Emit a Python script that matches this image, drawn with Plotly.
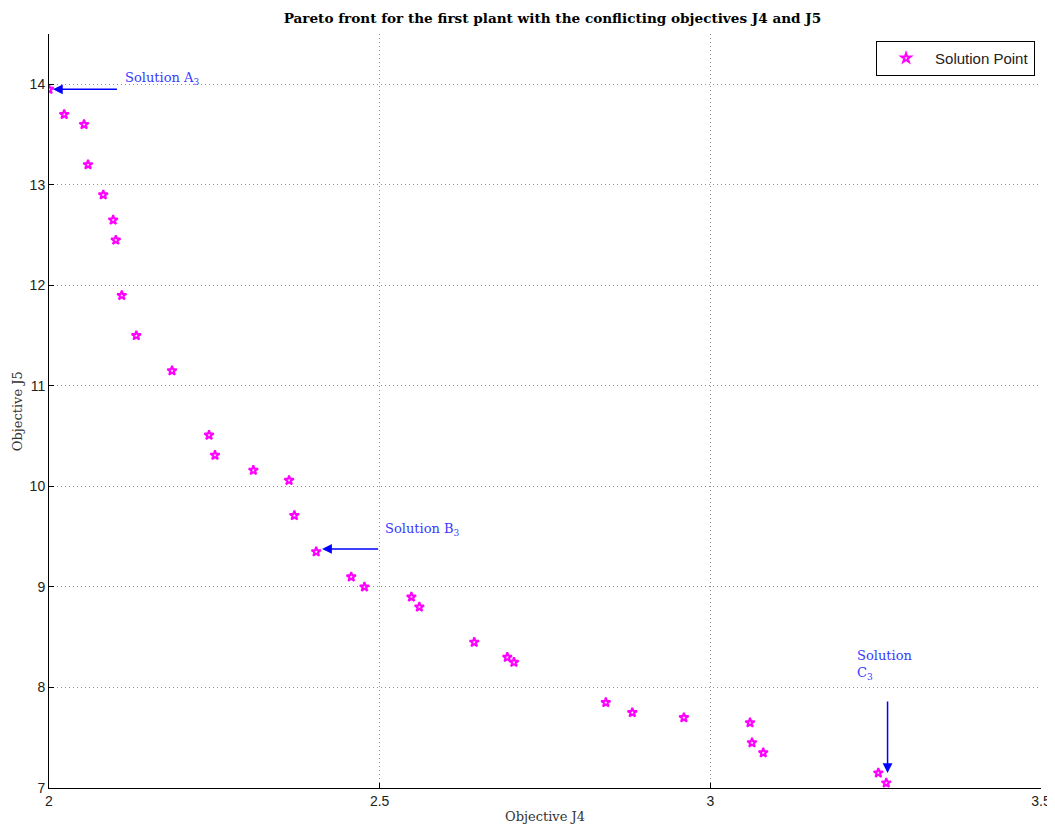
import plotly.graph_objects as go

# Data
j4 = [2.000, 2.023, 2.053, 2.059, 2.082, 2.097, 2.101, 2.110, 2.132, 2.186,
      2.242, 2.251, 2.309, 2.363, 2.371, 2.404, 2.457, 2.477, 2.548, 2.560,
      2.643, 2.693, 2.703, 2.842, 2.882, 2.960, 3.060, 3.063, 3.080, 3.254, 3.266]
j5 = [13.95, 13.70, 13.60, 13.20, 12.90, 12.65, 12.45, 11.90, 11.50, 11.15,
      10.51, 10.31, 10.16, 10.06, 9.71, 9.35, 9.10, 9.00, 8.90, 8.80,
      8.45, 8.30, 8.25, 7.85, 7.75, 7.70, 7.65, 7.45, 7.35, 7.15, 7.05]
x_ticks = [2, 2.5, 3, 3.5]
y_ticks = [7, 8, 9, 10, 11, 12, 13, 14]

serif = "DejaVu Serif, serif"
sans = "Liberation Sans, Arial, sans-serif"
blue = "#0000ff"
txtblue = "#3838ff"

fig = go.Figure()
fig.add_trace(go.Scatter(
    x=j4, y=j5, mode="markers", name="Solution Point",
    marker=dict(symbol="star-open", color="#ff00ff", size=7,
                line=dict(width=2, color="#ff00ff")),
))

# arrows (tip, tail) in data coordinates
arrows = [
    (2.006, 13.95, 2.105, 13.95),
    (2.413, 9.378, 2.500, 9.378),
    (3.268, 7.15, 3.268, 7.876),
]
annots = []
for x, y, ax, ay in arrows:
    annots.append(dict(x=x, y=y, ax=ax, ay=ay, xref="x", yref="y",
                       axref="x", ayref="y", text="", showarrow=True,
                       arrowhead=2, arrowsize=1.3, arrowwidth=1.5,
                       arrowcolor=blue))
annots += [
    dict(x=2.112, y=14.06, xref="x", yref="y", text="Solution A<sub>3</sub>",
         showarrow=False, xanchor="left", yanchor="middle",
         font=dict(family=serif, size=13, color=txtblue)),
    dict(x=2.505, y=9.57, xref="x", yref="y", text="Solution B<sub>3</sub>",
         showarrow=False, xanchor="left", yanchor="middle",
         font=dict(family=serif, size=13, color=txtblue)),
    dict(x=3.219, y=8.41, xref="x", yref="y", text="Solution<br>C<sub>3</sub>",
         showarrow=False, xanchor="left", yanchor="top", align="left",
         font=dict(family=serif, size=13, color=txtblue)),
    # axis titles placed explicitly
    dict(x=0.5, y=-0.025, xref="paper", yref="paper", text="Objective J4",
         showarrow=False, xanchor="center", yanchor="top",
         font=dict(family=serif, size=13, color="#333")),
    dict(x=-0.032, y=0.5, xref="paper", yref="paper", text="Objective J5",
         showarrow=False, xanchor="center", yanchor="middle", textangle=-90,
         font=dict(family=serif, size=13, color="#333")),
]

fig.update_layout(
    width=1047, height=825,
    margin=dict(l=41, r=14, t=26, b=45, autoexpand=False),
    paper_bgcolor="white", plot_bgcolor="white",
    title=dict(text="<b>Pareto front for the first plant with the conflicting objectives J4 and J5</b>",
               x=0.52, xanchor="center", y=0.987, yanchor="middle",
               font=dict(family=serif, size=13.6, color="black")),
    xaxis=dict(range=[2, 3.5], tickvals=x_ticks, ticktext=[str(v) for v in x_ticks],
               showgrid=True, gridcolor="#909090", griddash="1px,3px", gridwidth=1,
               ticks="inside", ticklen=5, tickcolor="black",
               showline=True, linecolor="black", linewidth=1, mirror=False,
               zeroline=False, automargin=False,
               tickfont=dict(family=sans, size=14, color="#222")),
    yaxis=dict(range=[7, 14.5], tickvals=y_ticks, ticktext=[str(v) for v in y_ticks],
               showgrid=True, gridcolor="#909090", griddash="1px,3px", gridwidth=1,
               ticks="inside", ticklen=5, tickcolor="black",
               showline=True, linecolor="black", linewidth=1, mirror=False,
               zeroline=False, automargin=False,
               tickfont=dict(family=sans, size=14, color="#222")),
    legend=dict(x=0.994, y=0.991, xanchor="right", yanchor="top",
                bgcolor="white", bordercolor="black", borderwidth=1,
                font=dict(family=sans, size=15, color="#222"),
                itemwidth=48, tracegroupgap=0),
    annotations=annots,
    showlegend=True,
)

fig.write_html("out.html")
